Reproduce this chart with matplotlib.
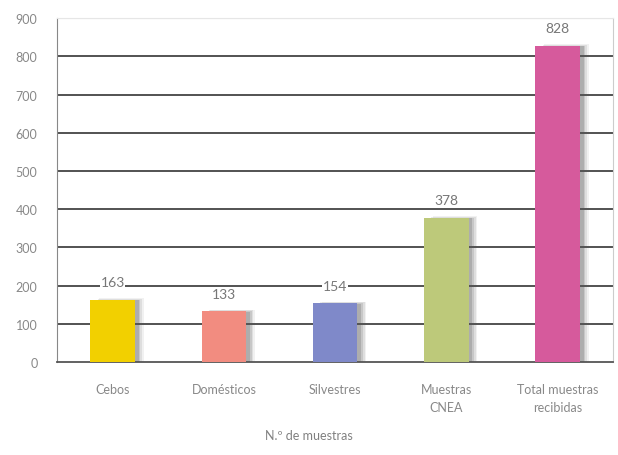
import matplotlib
matplotlib.use('Agg')
import matplotlib.pyplot as plt
import numpy as np

categorias = ['Cebos', 'Domésticos', 'Silvestres', 'Muestras\nCNEA', 'Total muestras\nrecibidas']
valores = [163, 133, 154, 378, 828]
colores = ['#F2D000', '#F28C80', '#7F89C9', '#BDC97A', '#D65A9C']

plt.rcParams['font.family'] = ['Lato', 'DejaVu Sans']

fig = plt.figure(figsize=(6.18, 4.56), dpi=100)
ax = fig.add_axes([0.0922, 0.204, 0.9, 0.754])

x = np.arange(len(categorias))
w = 0.4

# gridlines first, under the bars
for v in range(100, 900, 100):
    ax.axhline(v, color='#444444', lw=1.3, zorder=1)
ax.axhline(900, color='#e6e6e6', lw=0.8, zorder=1)

# soft shadow: stacked grey bars offset to the right
for k, a in enumerate([0.08, 0.12, 0.16, 0.22]):
    off = 0.08 - k * 0.015
    ax.bar(x + off, np.array(valores) + 4 - k * 2, width=w, color='#555555',
           alpha=a, zorder=2, linewidth=0)
ax.bar(x, valores, width=w, color=colores, zorder=3, linewidth=0)

for xi, v in zip(x, valores):
    ax.text(xi, v + 30, str(v), ha='center', va='bottom', fontsize=10,
            color='#777777', zorder=4,
            bbox=dict(facecolor='white', edgecolor='none', pad=0.5))

ax.set_xlim(-0.5, len(categorias) - 0.5)
ax.set_ylim(0, 900)
ax.set_yticks(range(0, 1000, 100))
ax.set_xticks(x)
ax.set_xticklabels(categorias, fontsize=9, color='#888888', linespacing=1.6)
ax.tick_params(axis='y', labelsize=9, labelcolor='#888888', length=0, pad=14)
ax.tick_params(axis='x', length=0, pad=15)

ax.spines['left'].set_color('#888888')
ax.spines['bottom'].set_color('#555555')
ax.spines['bottom'].set_linewidth(1.3)
ax.spines['top'].set_color('#e6e6e6')
ax.spines['right'].set_color('#cccccc')

fig.text(0.5, 0.035, 'N.º de muestras', ha='center', fontsize=9, color='#808080')

fig.savefig('out.png', dpi=100)
